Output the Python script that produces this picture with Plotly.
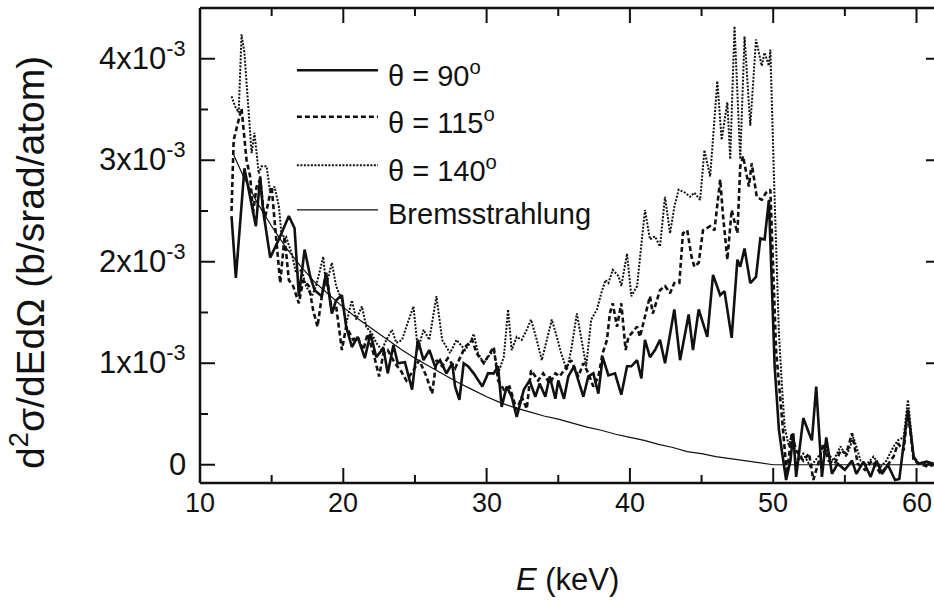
import plotly.graph_objects as go

# ---------------- data (cross sections in units of 1e-3 b/srad/atom) ----------------
E90 = [12.2, 12.5, 13.1, 13.9, 14.2, 14.4, 14.9, 15.5, 16.2, 16.6, 16.9, 17.3, 17.7, 18.0, 18.5,
       18.8, 19.2, 19.5, 19.9, 20.2, 20.6, 21.0, 21.5, 21.9, 22.3, 22.8, 23.1, 23.5, 23.8, 24.3,
       24.8, 25.2, 25.6, 26.0, 26.4, 26.75, 27.2, 27.6, 27.8, 28.1, 28.4, 28.7, 29.1, 29.7, 30.1,
       30.5, 30.8, 31.05, 31.4, 31.75, 32.1, 32.6, 33.0, 33.4, 33.7, 34.1, 34.4, 34.8, 35.0, 35.4,
       35.7, 36.1, 36.4, 36.75, 37.1, 37.45, 37.8, 38.1, 38.5, 38.96, 39.4, 39.8, 40.1, 40.5, 40.8,
       41.05, 41.4, 41.75, 42.1, 42.45, 43.1, 43.5, 44.1, 44.4, 44.8, 45.4, 45.8, 46.3, 46.6, 47.1,
       47.5, 47.7, 48.0, 48.4, 48.8, 49.1, 49.4, 49.7, 50.1, 50.4, 50.6, 50.9, 51.2, 51.4, 51.6,
       52.1, 52.5, 52.7, 53.0, 53.4, 53.7, 54.1, 54.5, 55.0, 55.5, 55.8, 56.3, 56.8, 57.2, 57.6,
       58.0, 58.5, 58.8, 59.1, 59.4, 59.8, 60.1, 60.7, 61.2]
S90 = [2.45, 1.84, 2.92, 2.35, 2.84, 2.51, 2.04, 2.22, 2.45, 2.33, 1.66, 2.12, 1.85, 1.72, 1.66,
       1.89, 1.49, 1.62, 1.67, 1.36, 1.16, 1.26, 1.05, 1.29, 1.06, 1.15, 0.90, 1.18, 1.00, 1.01,
       0.74, 1.23, 1.03, 1.13, 0.97, 1.03, 0.90, 1.00, 0.77, 0.64, 1.00, 0.97, 0.90, 0.77, 0.90,
       0.90, 0.97, 0.57, 0.77, 0.67, 0.47, 0.74, 0.83, 0.67, 0.80, 0.67, 0.87, 0.65, 0.83, 0.65,
       0.87, 0.97, 0.83, 0.67, 0.87, 0.90, 0.70, 1.06, 0.88, 0.90, 0.69, 0.97, 0.97, 1.03, 0.85,
       1.23, 1.06, 1.13, 1.23, 1.00, 1.53, 1.03, 1.48, 1.13, 1.53, 1.26, 1.87, 1.67, 1.71, 1.25,
       2.02, 1.95, 2.13, 1.79, 1.85, 2.23, 2.22, 2.61, 0.97, 0.34, 0.14, -0.15, 0.04, 0.31, -0.12,
       0.46, 0.31, 0.24, 0.77, -0.12, 0.27, -0.09, 0.01, -0.05, 0.04, -0.09, 0.03, -0.12, 0.04, -0.09,
       0.00, -0.15, -0.14, 0.21, 0.54, 0.08, 0.01, 0.03, 0.01]

E115 = [12.2, 12.35, 12.9, 13.25, 13.5, 13.7, 13.95, 14.2, 14.5, 15.0, 15.2, 15.6, 15.9, 16.2, 16.5,
        16.9, 17.2, 17.6, 17.9, 18.2, 18.5, 18.8, 19.2, 19.5, 19.9, 20.2, 20.7, 21.0, 21.4, 21.7,
        22.1, 22.5, 22.8, 23.1, 23.6, 24.0, 24.4, 24.9, 25.3, 25.8, 26.2, 26.5, 26.9, 27.3, 27.8,
        28.5, 29.0, 29.3, 29.8, 30.5, 30.8, 31.2, 31.6, 32.1, 32.45, 32.8, 33.1, 33.6, 33.95, 34.4,
        34.8, 35.1, 35.6, 35.9, 36.4, 36.75, 37.1, 37.45, 37.8, 38.1, 38.4, 38.6, 38.8, 39.1, 39.4,
        39.7, 39.9, 40.1, 40.5, 40.7, 41.2, 41.4, 41.6, 42.1, 42.45, 42.8, 43.1, 43.45, 43.7, 44.0,
        44.3, 44.5, 44.8, 45.1, 45.6, 45.9, 46.3, 46.5, 46.8, 47.1, 47.5, 47.7, 47.9, 48.3, 48.5,
        48.85, 49.2, 49.5, 49.8, 50.0, 50.2, 50.5, 50.7, 50.95, 51.3, 51.6, 52.1, 52.5, 52.8, 53.2,
        53.5, 53.85, 54.3, 54.7, 55.1, 55.5, 55.9, 56.4, 56.9, 57.5, 57.9, 58.4, 58.7, 59.1, 59.4,
        59.8, 60.2, 60.8, 61.2]
S115 = [2.50, 3.20, 3.51, 3.00, 2.84, 2.48, 2.74, 2.81, 2.41, 2.74, 2.41, 1.79, 2.25, 1.82, 1.76,
        1.59, 1.82, 1.76, 1.52, 1.36, 1.66, 1.89, 1.52, 1.56, 1.13, 1.36, 1.23, 1.26, 1.13, 1.29,
        1.10, 0.87, 1.10, 1.13, 1.00, 0.93, 0.83, 0.93, 1.03, 0.87, 0.70, 1.03, 0.97, 1.05, 0.95,
        1.16, 1.23, 1.10, 1.00, 1.16, 0.83, 0.74, 0.77, 0.54, 0.67, 0.55, 0.93, 0.83, 0.90, 0.80,
        0.90, 0.87, 0.97, 1.03, 0.87, 1.00, 0.90, 0.77, 0.87, 1.10, 1.23, 1.49, 1.59, 1.36, 1.59,
        1.13, 1.26, 1.29, 1.36, 1.26, 1.56, 1.66, 1.49, 1.72, 1.76, 1.69, 1.79, 1.79, 2.28, 2.31,
        2.05, 1.95, 1.99, 2.31, 2.35, 2.31, 2.81, 2.45, 2.02, 2.51, 2.28, 2.94, 3.04, 2.74, 2.97,
        2.64, 2.61, 2.68, 2.71, 1.95, 1.13, 0.64, 0.31, -0.09, 0.31, 0.14, 0.04, 0.11, -0.15, 0.04,
        0.21, 0.04, 0.01, 0.14, 0.11, 0.31, 0.01, -0.05, 0.04, -0.09, -0.02, 0.08, 0.21, 0.14, 0.54,
        0.04, 0.01, -0.02, 0.00]

E140 = [12.2, 12.45, 12.7, 12.9, 13.1, 13.4, 13.6, 13.8, 14.1, 14.3, 14.65, 14.9, 15.2, 15.5, 15.7,
        16.0, 16.4, 16.7, 17.1, 17.4, 17.8, 18.1, 18.6, 18.8, 19.2, 19.5, 19.9, 20.2, 20.6, 20.9,
        21.3, 21.6, 22.0, 22.3, 22.7, 23.0, 23.4, 23.7, 24.1, 24.4, 24.9, 25.2, 25.6, 26.0, 26.5,
        26.9, 27.45, 27.9, 28.5, 28.85, 29.1, 29.4, 29.8, 30.1, 30.5, 30.8, 31.2, 31.5, 31.75, 32.1,
        32.45, 32.8, 33.1, 33.5, 33.85, 34.2, 34.55, 34.9, 35.2, 35.6, 35.9, 36.3, 36.6, 36.95, 37.3,
        37.7, 38.0, 38.3, 38.5, 38.8, 39.2, 39.4, 39.8, 40.1, 40.5, 40.8, 41.05, 41.4, 41.75, 42.1,
        42.45, 42.8, 43.1, 43.4, 43.85, 44.2, 44.5, 44.9, 45.2, 45.6, 46.1, 46.4, 46.8, 47.0, 47.3,
        47.7, 48.0, 48.4, 48.8, 49.2, 49.4, 49.7, 49.8, 50.1, 50.4, 50.6, 50.8, 51.1, 51.3, 51.6,
        52.1, 52.6, 52.9, 53.3, 53.7, 54.2, 54.7, 55.1, 55.6, 56.1, 56.5, 57.0, 57.5, 57.9, 58.4,
        58.7, 59.1, 59.4, 59.8, 60.2, 60.8, 61.2]
S140 = [3.63, 3.53, 3.47, 4.24, 4.06, 3.50, 3.07, 3.27, 2.87, 2.94, 2.94, 2.68, 2.74, 2.55, 2.25,
        2.25, 2.08, 1.89, 1.92, 1.76, 1.66, 1.76, 2.05, 1.76, 1.99, 1.76, 1.62, 1.39, 1.62, 1.43,
        1.56, 1.36, 1.29, 1.20, 1.13, 1.23, 1.33, 1.20, 1.23, 1.36, 1.56, 1.13, 1.33, 1.23, 1.66,
        1.23, 1.10, 1.23, 1.13, 1.20, 1.29, 1.10, 1.00, 1.06, 1.13, 0.90, 1.06, 1.53, 1.13, 1.26,
        1.23, 1.33, 1.43, 1.23, 1.03, 1.23, 1.43, 1.26, 1.10, 0.93, 1.13, 1.49, 1.26, 0.97, 1.43,
        1.53, 1.69, 1.82, 1.79, 1.92, 1.86, 1.76, 2.08, 1.66, 1.76, 2.15, 2.51, 2.22, 2.25, 2.15,
        2.64, 2.28, 2.54, 2.71, 2.68, 2.64, 2.68, 2.61, 3.10, 2.84, 3.78, 3.20, 3.57, 3.01, 4.32,
        3.01, 4.22, 3.34, 4.19, 3.93, 4.06, 3.93, 4.09, 2.61, 1.29, 0.80, 0.37, 0.18, 0.31, 0.01,
        0.11, -0.02, 0.04, 0.11, 0.14, 0.04, 0.18, 0.08, 0.27, 0.04, 0.00, 0.08, -0.02, 0.04, 0.18,
        0.24, 0.27, 0.64, 0.08, 0.01, 0.01, 0.00]

E_brems = [12.3, 13, 14, 15, 16, 17, 18, 19, 20, 21, 22, 23, 24, 25, 26, 27, 28, 29, 30, 31, 32,
           33, 34, 35, 36, 37, 38, 39, 40, 41, 42, 43, 44, 45, 46, 47, 48, 49, 50, 52, 55, 58, 62]
S_brems = [3.07, 2.85, 2.58, 2.35, 2.14, 1.96, 1.80, 1.67, 1.55, 1.44, 1.34, 1.24, 1.14, 1.05,
           0.97, 0.89, 0.81, 0.74, 0.67, 0.61, 0.56, 0.52, 0.48, 0.45, 0.41, 0.37, 0.34, 0.30,
           0.27, 0.24, 0.20, 0.17, 0.13, 0.11, 0.08, 0.06, 0.04, 0.02, 0.0, 0.0, 0.0, 0.0, 0.0]

series_names = ["θ = 90<sup>o</sup>", "θ = 115<sup>o</sup>", "θ = 140<sup>o</sup>", "Bremsstrahlung"]
x_tickvals = [10, 20, 30, 40, 50, 60]
x_ticktext = ["10", "20", "30", "40", "50", "60"]
x_minorvals = [15, 25, 35, 45, 55]
y_tickvals = [0, 1, 2, 3, 4]
y_ticktext = ["0", "1x10<sup>-3</sup>", "2x10<sup>-3</sup>", "3x10<sup>-3</sup>", "4x10<sup>-3</sup>"]
y_minorvals = [0.5, 1.5, 2.5, 3.5]
x_range = [10, 61.22]
y_range = [-0.18, 4.5]

# ---------------- layout geometry & styling ----------------
W, H = 934, 609
M = dict(l=200, r=0, t=8, b=126)
plot_w = W - M["l"] - M["r"]
plot_h = H - M["t"] - M["b"]
ux = (x_range[1] - x_range[0]) / plot_w     # data units per pixel (x)
uy = (y_range[1] - y_range[0]) / plot_h     # data units per pixel (y)

INK = "#111111"
FONT = "Liberation Sans, Arial, sans-serif"
styles = [
    dict(color=INK, width=2.6, dash="solid"),
    dict(color=INK, width=2.6, dash="5px,3px"),
    dict(color=INK, width=2.0, dash="2px,1.5px"),
    dict(color=INK, width=1.2, dash="solid"),
]
xs = [E90, E115, E140, E_brems]
ys = [S90, S115, S140, S_brems]

fig = go.Figure()

# ---------------- inside ticks (mirrored), built from the tick arrays through the axis scales ----------------
tx, ty = [], []
for vals, ln in [(x_tickvals, 15), (x_minorvals, 8)]:
    for v in vals:
        tx += [v, v, None, v, v, None]
        ty += [y_range[0], y_range[0] + ln * uy, None, y_range[1], y_range[1] - ln * uy, None]
for vals, ln in [(y_tickvals, 15), (y_minorvals, 8)]:
    for v in vals:
        tx += [x_range[0], x_range[0] + ln * ux, None]
        ty += [v, v, None]
for v in y_tickvals:
    tx += [x_range[1] - 8 * ux, x_range[1], None]
    ty += [v, v, None]
fig.add_trace(go.Scatter(x=tx, y=ty, mode="lines", line=dict(color=INK, width=2),
                         hoverinfo="skip", showlegend=False, name="ticks"))

for i in [3, 2, 1, 0]:
    fig.add_trace(go.Scatter(x=xs[i], y=ys[i], mode="lines", name=series_names[i],
                             line=styles[i], showlegend=False))

# ---------------- frame (left, bottom, top; right edge lies beyond the crop) ----------------
frame = dict(color=INK, width=2.5)
fig.add_shape(type="line", xref="paper", yref="paper", x0=0, x1=0, y0=0, y1=1, line=frame, opacity=1)
fig.add_shape(type="line", xref="paper", yref="paper", x0=0, x1=1, y0=0, y1=0, line=frame, opacity=1)
fig.add_shape(type="line", xref="paper", yref="paper", x0=0, x1=1, y0=1, y1=1, line=frame, opacity=1)

# ---------------- custom legend (long sample lines as in the original) ----------------
leg_y = [0.869, 0.771, 0.669, 0.575]
for i in range(4):
    fig.add_shape(type="line", xref="paper", yref="paper", x0=0.132, x1=0.2425,
                  y0=leg_y[i], y1=leg_y[i], line=styles[i], opacity=1)
    fig.add_annotation(xref="paper", yref="paper", x=0.253, y=leg_y[i] - 0.008,
                       xanchor="left", yanchor="middle", showarrow=False,
                       text=series_names[i], font=dict(family=FONT, size=29, color=INK))

# ---------------- tick labels ----------------
for v, t in zip(x_tickvals, x_ticktext):
    fig.add_annotation(xref="x", x=v, yref="paper", y=0, xanchor="center", yanchor="top",
                       yshift=-3, showarrow=False, text=t,
                       font=dict(family=FONT, size=27, color=INK))
for v, t in zip(y_tickvals, y_ticktext):
    fig.add_annotation(xref="paper", x=0, yref="y", y=v, xanchor="right", yanchor="middle",
                       xshift=-12, yshift=(3 if "sup" in t else 0), showarrow=False, text=t,
                       font=dict(family=FONT, size=31, color=INK))

# ---------------- axis titles ----------------
fig.add_annotation(xref="paper", yref="paper", x=0.5, y=-0.204, xanchor="center", yanchor="middle",
                   showarrow=False, text="<i>E</i> (keV)", font=dict(family=FONT, size=31, color=INK))
fig.add_annotation(xref="paper", yref="paper", x=-0.236, y=0.465, textangle=-90,
                   xanchor="center", yanchor="middle", showarrow=False,
                   text="d<sup>2</sup>σ/dEdΩ (b/srad/atom)",
                   font=dict(family=FONT, size=39, color=INK))

fig.update_xaxes(range=x_range, visible=False, showgrid=False, zeroline=False)
fig.update_yaxes(range=y_range, visible=False, showgrid=False, zeroline=False)

fig.update_layout(template="none", width=W, height=H,
                  plot_bgcolor="white", paper_bgcolor="white",
                  margin=M, font=dict(family=FONT, color=INK))

fig.write_html("out.html", config={"displayModeBar": False},
               post_script="document.body.style.margin='0';")
